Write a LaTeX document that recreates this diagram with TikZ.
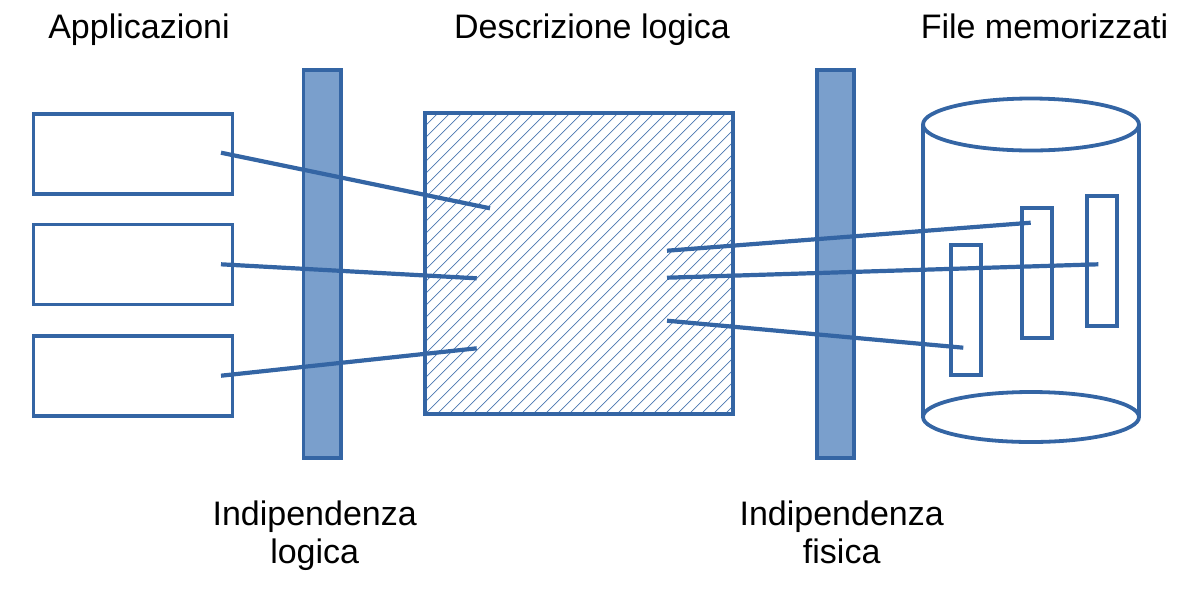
\documentclass[tikz,border=0pt]{standalone}
\usepackage{fontspec}
\setmainfont{Liberation Sans}
\definecolor{bord}{HTML}{3465A4}
\definecolor{barfill}{HTML}{7A9FCC}
\definecolor{hatchc}{HTML}{4A76B0}
\tikzset{
  lbl/.style={font=\fontsize{34}{38}\selectfont, inner sep=0pt, align=center, text=black},
  appbox/.style={draw=bord, line width=3.8pt, minimum width=199pt, minimum height=80pt, inner sep=0pt},
  bar/.style={draw=bord, fill=barfill, line width=3.8pt, minimum width=37.5pt, minimum height=388pt, inner sep=0pt},
  filebox/.style={draw=bord, line width=3.8pt, minimum width=30pt, minimum height=130pt, inner sep=0pt},
  conn/.style={draw=bord, line width=4.2pt},
  hatch/.style={draw=hatchc, line width=0.7pt},
}
\begin{document}
\begin{tikzpicture}[x=1pt, y=-1pt]
\useasboundingbox (0,0) rectangle (1188,606);
% titles
\node[lbl, anchor=base] (t1) at (139,38) {Applicazioni};
\node[lbl, anchor=base] (t2) at (592,38) {Descrizione logica};
\node[lbl, anchor=base] (t3) at (1044.5,38) {File memorizzati};
% applications
\node[appbox] (app1) at (133,153.7) {};
\node[appbox] (app2) at (133,264.5) {};
\node[appbox] (app3) at (133,375.7) {};
% bars
\node[bar] (bar1) at (322.2,263.7) {};
\node[bar] (bar2) at (835.5,263.7) {};
% hatched logical description
\begin{scope}
  \clip (425,113) rectangle (733,414);
  \foreach \c in {539,551,...,1160} {
    \draw[hatch] (\c-420,420) -- (\c-100,100);
  }
\end{scope}
\node[draw=bord, line width=3.8pt, minimum width=308pt, minimum height=301pt, inner sep=0pt] (logic) at (579,263.5) {};
% cylinder
\coordinate (cyl) at (1031,270);
\draw[bord, line width=3.8pt] (923,124.5) -- (923,417) (1139,124.5) -- (1139,417);
\draw[bord, line width=3.8pt, fill=white] (1031,124.5) ellipse [x radius=108, y radius=26];
\draw[bord, line width=3.8pt] (1031,417) ellipse [x radius=108, y radius=25];
% files
\node[filebox] (fA) at (966.3,310) {};
\node[filebox] (fB) at (1037,272.7) {};
\node[filebox] (fC) at (1101.7,260.7) {};
% connector endpoints
\coordinate (a1) at (221,152.7);
\coordinate (a2) at (221,264.3);
\coordinate (a3) at (221,375.7);
\coordinate (l1) at (490,208.3);
\coordinate (l2) at (476.7,278.3);
\coordinate (l3) at (476.7,348.3);
\coordinate (r1) at (667,250.7);
\coordinate (r2) at (667,277.7);
\coordinate (r3) at (667,320.7);
\coordinate (fb) at (1030.7,222.7);
\coordinate (fc) at (1098.3,264.3);
\coordinate (fa) at (963.3,347.7);
\draw[conn] (a1) -- (l1);
\draw[conn] (a2) -- (l2);
\draw[conn] (a3) -- (l3);
\draw[conn] (r1) -- (fb);
\draw[conn] (r2) -- (fc);
\draw[conn] (r3) -- (fa);
% bottom labels
\node[lbl, anchor=base] (ind1) at (314.7,563) {Indipendenza\\logica};
\node[lbl, anchor=base] (ind2) at (841.7,563) {Indipendenza\\fisica};
\end{tikzpicture}
\end{document}
